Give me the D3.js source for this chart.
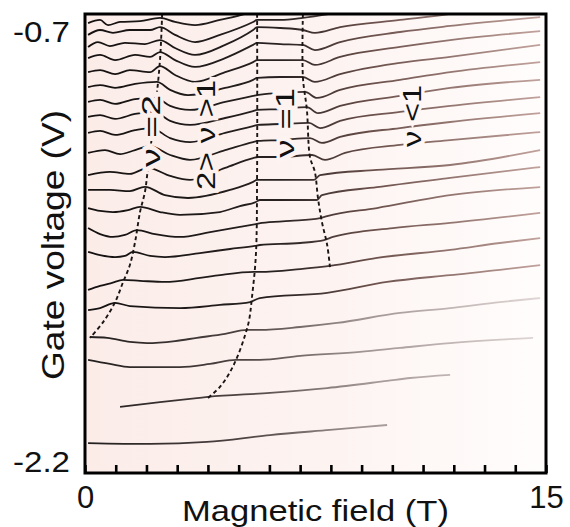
<!DOCTYPE html>
<html lang="en">
<head>
<meta charset="UTF-8">
<title>Gate voltage vs magnetic field</title>
<style>
  body { margin: 0; background: #fff; }
  svg { display: block; font-family: "Liberation Sans", Arial, sans-serif; }
</style>
</head>
<body>
<script src="https://cdn.jsdelivr.net/npm/d3@7/dist/d3.min.js"></script>
<script>
// axis ticks
var xTicks = d3.range(0, 16);
var xTickLabels = { 0: "0", 15: "15" };
var yTicks = [-0.7, -2.2];
var yTickLabels = ["-0.7", "-2.2"];
var regionLabels = ["\u03bd =2", "2> \u03bd >1", "\u03bd =1", "\u03bd <1"];

// traces, top to bottom: [B (T), gate voltage (V)]
var traces = [
  [[0.10,-0.669],[0.49,-0.658],[0.75,-0.676],[1.14,-0.665],[1.79,-0.662],[2.44,-0.651],[2.93,-0.665],[3.58,-0.676],[4.39,-0.658],[5.21,-0.637],[5.90,-0.610]],
  [[0.10,-0.710],[0.49,-0.693],[0.91,-0.703],[1.46,-0.693],[2.12,-0.693],[2.44,-0.683],[2.93,-0.710],[3.58,-0.735],[4.39,-0.710],[5.47,-0.665],[5.60,-0.658],[6.35,-0.658],[7.09,-0.651],[7.97,-0.637],[8.60,-0.625]],
  [[0.10,-0.752],[0.42,-0.735],[0.81,-0.749],[1.30,-0.738],[1.95,-0.742],[2.44,-0.728],[2.93,-0.756],[3.58,-0.780],[4.56,-0.745],[5.47,-0.693],[5.60,-0.683],[6.35,-0.686],[7.09,-0.693],[7.48,-0.703],[8.30,-0.683],[10.25,-0.658],[11.88,-0.637],[12.50,-0.625]],
  [[0.10,-0.791],[0.49,-0.780],[0.98,-0.798],[1.63,-0.780],[2.12,-0.787],[2.44,-0.770],[2.93,-0.798],[3.58,-0.822],[4.56,-0.791],[5.47,-0.745],[5.60,-0.738],[6.35,-0.742],[7.09,-0.745],[7.48,-0.763],[8.30,-0.735],[10.25,-0.700],[11.88,-0.679],[14.81,-0.648]],
  [[0.10,-0.840],[0.49,-0.833],[0.98,-0.847],[1.46,-0.833],[2.12,-0.840],[2.44,-0.819],[2.93,-0.850],[3.58,-0.874],[4.56,-0.840],[5.47,-0.805],[5.60,-0.798],[6.35,-0.798],[7.09,-0.798],[7.48,-0.815],[8.30,-0.787],[10.25,-0.752],[11.88,-0.728],[14.81,-0.697]],
  [[0.10,-0.892],[0.49,-0.885],[0.98,-0.895],[1.63,-0.881],[2.34,-0.874],[2.77,-0.902],[3.35,-0.920],[4.56,-0.895],[5.47,-0.867],[5.60,-0.860],[6.35,-0.857],[7.09,-0.857],[7.48,-0.874],[8.30,-0.847],[10.25,-0.808],[11.88,-0.787],[14.81,-0.745]],
  [[0.10,-0.944],[0.49,-0.937],[0.98,-0.951],[1.63,-0.934],[2.31,-0.930],[2.77,-0.958],[3.42,-0.972],[4.56,-0.944],[5.47,-0.923],[5.60,-0.920],[6.35,-0.913],[7.16,-0.909],[7.55,-0.930],[8.30,-0.902],[10.25,-0.867],[11.88,-0.840],[14.81,-0.805]],
  [[0.10,-0.996],[0.49,-0.990],[0.98,-1.003],[1.63,-0.986],[2.25,-0.979],[2.77,-1.010],[3.42,-1.024],[4.56,-1.000],[5.47,-0.976],[5.60,-0.972],[6.35,-0.969],[7.22,-0.962],[7.58,-0.983],[8.30,-0.958],[10.25,-0.923],[11.88,-0.895],[14.81,-0.867]],
  [[0.10,-1.052],[0.49,-1.045],[0.98,-1.059],[1.63,-1.042],[2.15,-1.035],[2.77,-1.070],[3.42,-1.084],[4.56,-1.052],[5.47,-1.028],[5.63,-1.024],[6.35,-1.021],[7.29,-1.017],[7.65,-1.035],[8.30,-1.010],[10.25,-0.979],[11.88,-0.958],[14.81,-0.927]],
  [[0.10,-1.122],[0.65,-1.112],[1.14,-1.126],[1.63,-1.112],[2.12,-1.098],[2.77,-1.129],[3.42,-1.146],[4.56,-1.112],[5.47,-1.084],[5.63,-1.080],[6.35,-1.077],[7.32,-1.070],[7.71,-1.087],[8.30,-1.066],[10.25,-1.035],[11.88,-1.014],[14.81,-0.983]],
  [[0.10,-1.199],[0.81,-1.188],[1.46,-1.195],[2.05,-1.174],[2.77,-1.202],[3.42,-1.216],[4.56,-1.174],[5.47,-1.140],[5.63,-1.136],[6.35,-1.136],[7.39,-1.129],[7.81,-1.146],[8.46,-1.122],[10.25,-1.094],[11.88,-1.077],[14.81,-1.049]],
  [[0.10,-1.251],[0.81,-1.251],[1.46,-1.255],[1.95,-1.240],[2.60,-1.269],[3.35,-1.279],[4.72,-1.251],[5.47,-1.223],[5.60,-1.216],[6.35,-1.216],[7.45,-1.216],[7.65,-1.199],[9.50,-1.181],[11.88,-1.164],[14.81,-1.112]],
  [[0.10,-1.314],[0.49,-1.324],[0.91,-1.328],[1.40,-1.321],[1.79,-1.310],[2.44,-1.328],[3.09,-1.338],[4.39,-1.328],[5.04,-1.307],[5.56,-1.293],[5.69,-1.286],[6.67,-1.286],[7.55,-1.286],[7.71,-1.269],[9.50,-1.241],[11.88,-1.209],[14.81,-1.171]],
  [[0.10,-1.384],[0.49,-1.405],[0.91,-1.415],[1.30,-1.408],[1.69,-1.391],[2.28,-1.405],[3.09,-1.415],[4.07,-1.398],[5.04,-1.380],[5.56,-1.370],[5.76,-1.366],[6.67,-1.359],[7.65,-1.349],[7.88,-1.342],[9.50,-1.314],[11.88,-1.269],[14.81,-1.241]],
  [[0.10,-1.467],[0.49,-1.478],[0.98,-1.485],[1.30,-1.481],[1.56,-1.467],[2.12,-1.481],[2.60,-1.485],[3.74,-1.471],[4.72,-1.457],[5.53,-1.446],[5.69,-1.443],[7.00,-1.436],[7.78,-1.426],[8.07,-1.415],[10.02,-1.384],[11.88,-1.366],[14.81,-1.331]],
  [[0.10,-1.600],[0.49,-1.586],[0.88,-1.575],[1.24,-1.565],[1.79,-1.568],[2.60,-1.572],[3.74,-1.558],[4.39,-1.548],[5.50,-1.537],[5.69,-1.537],[7.00,-1.527],[7.97,-1.516],[9.50,-1.488],[11.88,-1.460],[13.50,-1.436],[14.81,-1.419]],
  [[0.10,-1.670],[0.49,-1.663],[0.98,-1.645],[1.46,-1.656],[3.09,-1.663],[4.39,-1.652],[5.37,-1.642],[5.69,-1.628],[7.88,-1.610],[9.83,-1.572],[11.88,-1.548],[13.50,-1.530],[14.81,-1.513]],
  [[0.16,-1.764],[0.72,-1.767],[1.46,-1.781],[2.02,-1.785],[2.93,-1.778],[3.64,-1.767],[4.56,-1.753],[5.27,-1.739],[5.69,-1.739],[7.00,-1.729],[8.20,-1.715],[10.25,-1.680],[11.88,-1.663],[13.50,-1.642],[14.81,-1.628]],
  [[0.10,-1.844],[0.81,-1.858],[1.46,-1.869],[3.09,-1.869],[4.07,-1.858],[4.91,-1.844],[5.69,-1.844],[7.00,-1.830],[8.95,-1.816],[10.25,-1.802],[11.88,-1.785],[14.58,-1.767]],
  [[1.14,-2.008],[2.44,-1.991],[3.64,-1.977],[4.00,-1.973],[6.02,-1.959],[7.88,-1.942],[9.83,-1.917],[10.58,-1.907],[11.88,-1.896]],
  [[0.10,-2.134],[2.12,-2.137],[3.97,-2.130],[6.02,-2.106],[7.97,-2.088],[9.83,-2.071]]
];

// filling factor boundaries (dashed)
var nu2Line = [[2.51,-0.637],[2.44,-0.798],[2.28,-0.972],[2.05,-1.174],[1.95,-1.258],[1.79,-1.328],[1.63,-1.432],[1.46,-1.513],[1.24,-1.572],[0.98,-1.642],[0.59,-1.712],[0.16,-1.767]];
var nu1Line = [[5.60,-0.637],[5.60,-1.181],[5.56,-1.478],[5.43,-1.628],[5.34,-1.705],[5.21,-1.757],[4.98,-1.827],[4.72,-1.886],[4.39,-1.938],[4.00,-1.977]];
var nu1LowLine = [[7.09,-0.637],[7.09,-0.857],[7.22,-0.972],[7.32,-1.136],[7.48,-1.188],[7.58,-1.279],[7.71,-1.363],[7.88,-1.443],[7.97,-1.520]];

var width = 570, height = 527;
var plotTop = 14, plotBottom = 473;

var svg = d3.select("body").append("svg")
  .attr("width", width)
  .attr("height", height);

var x = d3.scaleLinear().domain([0, 15]).range([85, 546]);
var y = d3.scaleLinear().domain([-2.2, -0.7]).range([462, 32]);

var defs = svg.append("defs");

var bg = defs.append("linearGradient").attr("id", "bg")
  .attr("x1", "0%").attr("x2", "100%").attr("y1", "0%").attr("y2", "0%");
bg.append("stop").attr("offset", "0%").attr("stop-color", "#fbece8");
bg.append("stop").attr("offset", "55%").attr("stop-color", "#fdf4f2");
bg.append("stop").attr("offset", "100%").attr("stop-color", "#fffdfc");

var ink = defs.append("linearGradient").attr("id", "ink")
  .attr("gradientUnits", "userSpaceOnUse")
  .attr("x1", x(0)).attr("x2", x(15)).attr("y1", 0).attr("y2", 0);
ink.append("stop").attr("offset", "0%").attr("stop-color", "#151111");
ink.append("stop").attr("offset", "42%").attr("stop-color", "#272121");
ink.append("stop").attr("offset", "62%").attr("stop-color", "#6a4f4a");
ink.append("stop").attr("offset", "100%").attr("stop-color", "#c4a49e");

var inkLow = defs.append("linearGradient").attr("id", "inkLow")
  .attr("gradientUnits", "userSpaceOnUse")
  .attr("x1", x(0)).attr("x2", x(15)).attr("y1", 0).attr("y2", 0);
inkLow.append("stop").attr("offset", "0%").attr("stop-color", "#221e1e");
inkLow.append("stop").attr("offset", "35%").attr("stop-color", "#4e4442");
inkLow.append("stop").attr("offset", "60%").attr("stop-color", "#a09492");
inkLow.append("stop").attr("offset", "100%").attr("stop-color", "#e2d9d8");

defs.append("clipPath").attr("id", "plotClip")
  .append("rect")
  .attr("x", x(0)).attr("y", plotTop)
  .attr("width", x(15) - x(0)).attr("height", plotBottom - plotTop);

svg.append("rect")
  .attr("x", x(0)).attr("y", plotTop)
  .attr("width", x(15) - x(0)).attr("height", plotBottom - plotTop)
  .attr("fill", "url(#bg)");

var line = d3.line()
  .x(function(d) { return x(d[0]); })
  .y(function(d) { return y(d[1]); })
  .curve(d3.curveMonotoneX);

var smooth = d3.line()
  .x(function(d) { return x(d[0]); })
  .y(function(d) { return y(d[1]); })
  .curve(d3.curveCatmullRom);

var plot = svg.append("g").attr("clip-path", "url(#plotClip)");

plot.selectAll(".trace")
  .data(traces)
  .enter()
  .append("path")
  .attr("class", "trace")
  .attr("d", line)
  .attr("fill", "none")
  .attr("stroke", function(d, i) { return i >= 17 ? "url(#inkLow)" : "url(#ink)"; })
  .attr("stroke-width", 1.8)
  .attr("stroke-linejoin", "round");

plot.selectAll(".boundary")
  .data([nu2Line, nu1Line, nu1LowLine])
  .enter()
  .append("path")
  .attr("class", "boundary")
  .attr("d", smooth)
  .attr("fill", "none")
  .attr("stroke", "#1a1616")
  .attr("stroke-width", 1.9)
  .attr("stroke-dasharray", "4,3");

// region labels, rotated
var labelPos = [[2.15, -1.045], [3.94, -1.059], [6.51, -1.017], [10.64, -0.993]];
var labelLen = [72, 110, 70, 62];
var labelHalo = ["#fcf0ed", "#fcf1ee", "#fdf3f1", "#fef7f6"];

svg.selectAll(".nu")
  .data(regionLabels)
  .enter()
  .append("text")
  .attr("class", "nu")
  .attr("transform", function(d, i) {
    return "translate(" + x(labelPos[i][0]) + "," + y(labelPos[i][1]) + ") rotate(-90)";
  })
  .attr("text-anchor", "middle")
  .attr("dy", "0.36em")
  .attr("font-size", 26)
  .attr("textLength", function(d, i) { return labelLen[i]; })
  .attr("lengthAdjust", "spacingAndGlyphs")
  .attr("fill", "#111")
  .attr("stroke", function(d, i) { return labelHalo[i]; })
  .attr("stroke-width", 7)
  .attr("paint-order", "stroke")
  .text(function(d) { return d; });

// frame
svg.append("rect")
  .attr("x", x(0)).attr("y", plotTop)
  .attr("width", x(15) - x(0)).attr("height", plotBottom - plotTop)
  .attr("fill", "none")
  .attr("stroke", "#000")
  .attr("stroke-width", 3);

var xAxis = d3.axisBottom(x)
  .tickValues(xTicks)
  .tickSize(-8)
  .tickPadding(13)
  .tickFormat(function(d) { return xTickLabels[d] || ""; });

var gx = svg.append("g")
  .attr("transform", "translate(0," + plotBottom + ")")
  .call(xAxis);
gx.select(".domain").remove();
gx.selectAll(".tick line").attr("stroke", "#000").attr("stroke-width", 2.6);
gx.selectAll(".tick text")
  .attr("font-size", 31)
  .attr("font-family", "Liberation Sans, Arial, sans-serif")
  .attr("fill", "#111");

var yAxis = d3.axisLeft(y)
  .tickValues(yTicks)
  .tickSize(0)
  .tickPadding(15)
  .tickFormat(function(d, i) { return yTickLabels[i]; });

var gy = svg.append("g")
  .attr("transform", "translate(" + x(0) + ",0)")
  .call(yAxis);
gy.select(".domain").remove();
gy.selectAll(".tick text")
  .attr("font-size", 30)
  .attr("font-family", "Liberation Sans, Arial, sans-serif")
  .attr("textLength", 57)
  .attr("lengthAdjust", "spacingAndGlyphs")
  .attr("fill", "#111");

svg.append("text")
  .attr("x", (x(0) + x(15)) / 2)
  .attr("y", 521)
  .attr("text-anchor", "middle")
  .attr("font-size", 30)
  .attr("textLength", 267)
  .attr("lengthAdjust", "spacingAndGlyphs")
  .attr("fill", "#111")
  .text("Magnetic field (T)");

svg.append("text")
  .attr("transform", "translate(64,245) rotate(-90)")
  .attr("text-anchor", "middle")
  .attr("font-size", 31)
  .attr("textLength", 270)
  .attr("lengthAdjust", "spacingAndGlyphs")
  .attr("fill", "#111")
  .text("Gate voltage (V)");
</script>
</body>
</html>
